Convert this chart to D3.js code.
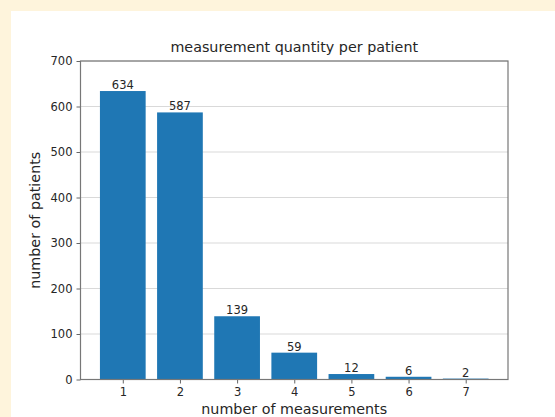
<!DOCTYPE html>
<html>
<head>
<meta charset="utf-8">
<script src="https://cdn.jsdelivr.net/npm/d3@7"></script>
<style>
  html, body { margin: 0; padding: 0; background: #fef4dc; }
  svg { display: block; }
  text { font-family: "DejaVu Sans", sans-serif; fill: #262626; }
</style>
</head>
<body>
<svg id="chart" width="555" height="417"></svg>
<script>
// Measurement counts per patient
const categories = [1, 2, 3, 4, 5, 6, 7];
const patients = [634, 587, 139, 59, 12, 6, 2];
const yTicks = [0, 100, 200, 300, 400, 500, 600, 700];

const titleText = "measurement quantity per patient";
const xLabel = "number of measurements";
const yLabel = "number of patients";

const svg = d3.select("#chart");
const W = 555, H = 417;

// white figure panel
svg.append("rect").attr("x", 11).attr("y", 11).attr("width", W - 11).attr("height", H - 11).attr("fill", "#ffffff");

const plot = { left: 80.5, right: 508, top: 61, bottom: 379.5 };

// linear x scale with 5% margins around bars of width 0.8
const barW = 0.8;
const lo = categories[0] - barW / 2, hi = categories[categories.length - 1] + barW / 2;
const pad = (hi - lo) * 0.05;
const x = d3.scaleLinear().domain([lo - pad, hi + pad]).range([plot.left, plot.right]);
const y = d3.scaleLinear().domain([0, 700]).range([plot.bottom, plot.top]);

// horizontal gridlines
svg.append("g")
  .selectAll("line").data(yTicks).join("line")
  .attr("x1", plot.left).attr("x2", plot.right)
  .attr("y1", d => y(d)).attr("y2", d => y(d))
  .attr("stroke", "#d9d9d9").attr("stroke-width", 1);

// bars
svg.append("g")
  .selectAll("rect").data(categories).join("rect")
  .attr("x", (d) => x(d - barW / 2))
  .attr("width", (d) => x(d + barW / 2) - x(d - barW / 2))
  .attr("y", (d, i) => y(patients[i]))
  .attr("height", (d, i) => y(0) - y(patients[i]))
  .attr("fill", "#1f77b4");

// value labels
svg.append("g")
  .selectAll("text").data(categories).join("text")
  .attr("x", d => x(d))
  .attr("y", (d, i) => y(patients[i]) - 2)
  .attr("text-anchor", "middle")
  .attr("font-size", 11.5)
  .text((d, i) => patients[i]);

// axes
const xAxis = d3.axisBottom(x).tickValues(categories).tickSize(4).tickPadding(4).tickFormat(d3.format("d"));
const yAxis = d3.axisLeft(y).tickValues(yTicks).tickSize(4).tickPadding(4);

const gx = svg.append("g").attr("transform", `translate(0,${plot.bottom})`).call(xAxis);
const gy = svg.append("g").attr("transform", `translate(${plot.left},0)`).call(yAxis);
[gx, gy].forEach(g => {
  g.select(".domain").remove();
  g.selectAll(".tick line").attr("stroke", "#666");
  g.selectAll(".tick text").attr("font-size", 11.5).attr("fill", "#333").style("font-family", "DejaVu Sans, sans-serif");
});

// frame
svg.append("rect")
  .attr("x", plot.left).attr("y", plot.top)
  .attr("width", plot.right - plot.left).attr("height", plot.bottom - plot.top)
  .attr("fill", "none").attr("stroke", "#777").attr("stroke-width", 1.2);

// title and axis labels
svg.append("text").attr("x", (plot.left + plot.right) / 2).attr("y", 52)
  .attr("text-anchor", "middle").attr("font-size", 14.3).text(titleText);
svg.append("text").attr("x", (plot.left + plot.right) / 2).attr("y", 414)
  .attr("text-anchor", "middle").attr("font-size", 14.3).text(xLabel);
svg.append("text")
  .attr("transform", `translate(40,${(plot.top + plot.bottom) / 2}) rotate(-90)`)
  .attr("text-anchor", "middle").attr("font-size", 14.3).text(yLabel);
</script>
</body>
</html>
